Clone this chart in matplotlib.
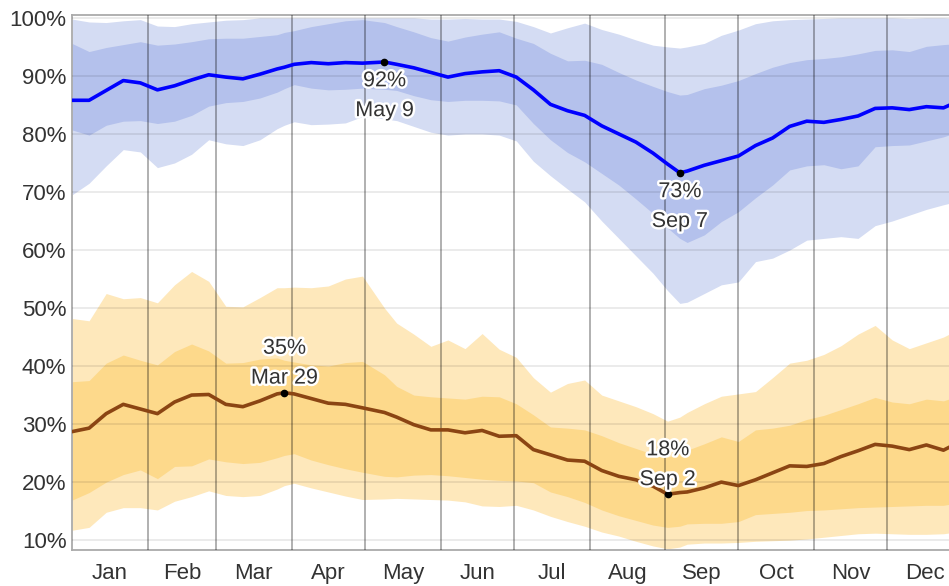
import datetime
import numpy as np
import matplotlib
matplotlib.use('Agg')
import matplotlib.pyplot as plt
import matplotlib.patheffects as pe

plt.rcParams['font.family'] = ['Liberation Sans', 'DejaVu Sans']

# day of year (0 = Jan 1)
days = [0, 7, 14, 21, 28, 35, 42, 49, 56, 63, 70, 77, 84, 87, 91, 98, 105, 112, 119, 128,
        133, 140, 147, 154, 161, 168, 175, 182, 189, 196, 203, 210, 217, 224, 231, 238,
        244, 249, 252, 259, 266, 273, 280, 287, 294, 301, 308, 315, 322, 329, 336, 343,
        350, 357, 364]

# blue: daily high humidity (median, 25-75, 10-90 percentiles)
blue_med = [85.8, 85.8, 87.5, 89.2, 88.8, 87.6, 88.3, 89.3, 90.2, 89.8, 89.5, 90.3, 91.2, 91.5,
            92.0, 92.3, 92.1, 92.3, 92.2, 92.4, 92.0, 91.4, 90.6, 89.8, 90.4, 90.7, 90.9, 89.8,
            87.6, 85.1, 84.0, 83.2, 81.4, 80.0, 78.6, 76.7, 74.8, 73.3, 73.6, 74.6, 75.4, 76.2,
            78.0, 79.3, 81.3, 82.2, 82.0, 82.5, 83.1, 84.4, 84.5, 84.2, 84.7, 84.5, 85.8]
blue_p75 = [95.6, 94.2, 94.9, 95.4, 95.9, 95.3, 95.5, 95.9, 96.4, 96.5, 96.5, 96.8, 97.1, 97.5,
            97.8, 98.5, 99.0, 99.5, 99.7, 99.2, 98.5, 97.6, 96.6, 96.0, 96.7, 97.2, 97.6, 96.5,
            95.6, 93.9, 92.6, 92.7, 92.0, 90.6, 89.3, 88.2, 87.3, 86.7, 86.8, 87.8, 88.4, 89.2,
            90.4, 91.5, 92.3, 92.8, 93.0, 93.3, 93.8, 94.4, 94.5, 94.2, 95.1, 95.4, 95.6]
blue_p25 = [80.7, 79.8, 81.5, 82.2, 82.3, 81.8, 82.2, 83.2, 84.8, 85.4, 85.6, 86.2, 87.2, 87.8,
            88.5, 87.9, 87.6, 87.7, 87.9, 87.7, 87.5, 86.6, 85.9, 85.6, 85.8, 85.8, 85.7, 85.0,
            81.8, 79.0, 76.8, 75.2, 73.2, 71.2, 68.8, 66.3, 63.8, 62.0, 61.3, 62.6, 64.9, 66.6,
            69.0, 71.2, 73.8, 74.5, 74.7, 74.0, 74.5, 77.8, 78.0, 78.1, 78.8, 79.5, 80.5]
blue_p90 = [99.8, 99.3, 99.2, 99.5, 99.7, 98.6, 98.5, 99.0, 99.3, 99.6, 99.7, 100, 100, 100,
            100, 100, 100, 100, 100, 100, 100, 100, 99.8, 99.8, 99.9, 99.8, 99.8, 99.4,
            98.5, 97.4, 98.3, 99.1, 98.0, 97.2, 96.2, 95.3, 95.0, 94.8, 95.0, 95.6, 97.0, 97.9,
            99.0, 99.5, 99.7, 99.8, 99.9, 100, 100, 100, 100, 99.9, 100, 100, 99.8]
blue_p10 = [69.5, 71.5, 74.5, 77.3, 76.9, 74.2, 75.0, 76.5, 79.0, 78.3, 78.0, 79.0, 80.9, 81.5,
            82.1, 81.6, 81.7, 81.9, 83.0, 82.6, 82.3, 81.3, 80.3, 79.8, 80.0, 80.0, 79.8, 78.8,
            75.3, 72.8, 70.5, 68.3, 65.0, 62.0, 59.0, 56.0, 53.0, 50.8, 51.0, 52.5, 54.0, 54.5,
            58.0, 58.6, 60.0, 61.7, 62.0, 62.3, 62.0, 64.2, 65.0, 66.0, 67.0, 67.8, 68.5]

# orange: daily low humidity
orange_med = [28.7, 29.3, 31.8, 33.4, 32.6, 31.8, 33.8, 35.0, 35.1, 33.4, 33.0, 34.0, 35.2, 35.4,
              35.2, 34.4, 33.6, 33.4, 32.8, 32.0, 31.2, 29.9, 29.0, 29.0, 28.5, 28.9, 27.9, 28.0,
              25.6, 24.7, 23.8, 23.6, 22.0, 21.0, 20.4, 19.3, 17.9, 18.2, 18.3, 19.0, 20.0, 19.4,
              20.4, 21.6, 22.8, 22.7, 23.2, 24.4, 25.4, 26.5, 26.2, 25.6, 26.4, 25.5, 27.0]
orange_p75 = [37.3, 37.5, 40.5, 41.9, 41.0, 40.2, 42.5, 43.8, 42.6, 40.5, 40.6, 41.2, 41.4, 41.0,
              40.7, 40.2, 40.0, 40.6, 40.8, 38.5, 36.5, 35.0, 34.7, 34.5, 34.3, 34.8, 34.7, 33.5,
              31.6, 29.5, 29.3, 29.0, 28.0, 26.8, 25.8, 24.8, 24.3, 25.0, 25.5, 26.6, 27.8, 27.0,
              29.0, 29.3, 29.8, 30.8, 31.5, 32.5, 33.5, 34.6, 33.8, 33.5, 34.3, 34.0, 35.0]
orange_p25 = [16.9, 18.2, 20.0, 21.3, 22.1, 20.6, 22.7, 22.8, 24.0, 23.5, 23.2, 23.4, 24.2, 24.6,
              24.9, 23.8, 23.0, 22.3, 21.7, 21.0, 20.9, 21.2, 21.3, 21.1, 20.8, 20.5, 20.3, 20.2,
              19.9, 18.3, 17.5, 16.5, 15.2, 14.2, 13.4, 12.6, 12.2, 12.4, 12.8, 12.9, 12.9, 13.2,
              14.4, 14.6, 14.8, 15.1, 15.2, 15.4, 15.6, 15.7, 15.8, 15.9, 16.0, 16.0, 16.5]
orange_p90 = [48.2, 47.8, 52.5, 51.6, 51.8, 50.9, 54.0, 56.3, 54.6, 50.3, 50.2, 51.8, 53.5, 53.5,
              53.6, 53.5, 53.8, 55.0, 55.5, 50.0, 47.4, 45.5, 43.4, 44.5, 43.0, 45.6, 42.9, 41.5,
              38.0, 35.5, 37.0, 37.6, 35.0, 34.0, 33.0, 31.8, 30.5, 31.2, 32.0, 33.5, 34.8, 35.2,
              35.6, 38.0, 40.5, 41.0, 42.0, 43.5, 45.5, 47.0, 44.5, 43.0, 44.0, 45.0, 46.5]
orange_p10 = [11.7, 12.2, 14.8, 15.6, 15.6, 15.2, 16.7, 17.5, 18.5, 17.7, 17.5, 17.7, 18.8, 19.4,
              19.8, 19.0, 18.3, 17.6, 17.0, 17.1, 17.2, 17.1, 17.0, 16.9, 16.6, 15.9, 15.8, 16.0,
              15.2, 14.1, 13.2, 12.4, 11.4, 10.7, 9.8, 9.0, 8.5, 8.8, 9.3, 9.5, 9.5, 9.6,
              9.8, 9.9, 10.0, 10.2, 10.5, 10.8, 11.1, 11.2, 11.1, 11.0, 11.0, 11.1, 11.5]

months = ['Jan', 'Feb', 'Mar', 'Apr', 'May', 'Jun', 'Jul', 'Aug', 'Sep', 'Oct', 'Nov', 'Dec']
month_len = [31, 28, 31, 30, 31, 30, 31, 31, 30, 31, 30, 31]
yticks = [10, 20, 30, 40, 50, 60, 70, 80, 90, 100]

text_color = '#333333'

fig = plt.figure(figsize=(9.49, 5.86), dpi=100)
# plot area runs a bit past the right edge of the image, like the original
ax = fig.add_axes([72 / 949, 1 - 550 / 586, 891 / 949, 535 / 586])

ax.fill_between(days, blue_p10, blue_p90, color='#d4dcf3', lw=0, zorder=1)
ax.fill_between(days, blue_p25, blue_p75, color='#b4c1ec', lw=0, zorder=1)
ax.fill_between(days, orange_p10, orange_p90, color='#fee8bb', lw=0, zorder=1)
ax.fill_between(days, orange_p25, orange_p75, color='#fdd98b', lw=0, zorder=1)

ax.plot(days, blue_med, color='#0000ff', lw=2.6, zorder=4)
ax.plot(days, orange_med, color='#8b4513', lw=2.6, zorder=4)

for y in yticks:
    ax.axhline(y, color=(0, 0, 0, 0.1), lw=1.1, zorder=3)
starts = np.cumsum([0] + month_len)
for x in starts[1:-1]:
    ax.axvline(x, color=(0, 0, 0, 0.36), lw=1.2, zorder=3)

# label highest / lowest point of each median line
halo = [pe.withStroke(linewidth=3.5, foreground='white')]
for series, pick, below in [(blue_med, np.argmax, True), (blue_med, np.argmin, True),
                            (orange_med, np.argmax, False), (orange_med, np.argmin, False)]:
    i = int(pick(series))
    d, v = days[i], series[i]
    date = datetime.date(2023, 1, 1) + datetime.timedelta(days=d)
    label = f"{v:.0f}%\n{date:%b} {date.day}"
    ax.plot(d, v, 'o', color='black', ms=4.5, zorder=6)
    ax.annotate(label, (d, v), xytext=(0, -6 if below else 3), textcoords='offset points',
                ha='center', va='top' if below else 'bottom', fontsize=15.5,
                color=text_color, linespacing=1.55, zorder=7, path_effects=halo)

ax.set_xlim(0, 365)
ax.set_ylim(8.3, 100.5)
ax.set_xticks(starts[:-1] + np.array(month_len) / 2)
ax.set_xticklabels(months)
ax.set_yticks(yticks)
ax.set_yticklabels([f"{y}%" for y in yticks])
ax.tick_params(length=0, labelsize=16, labelcolor=text_color)
ax.tick_params(axis='x', pad=21)
ax.tick_params(axis='y', pad=4)
# month names share one baseline
for lab in ax.get_xticklabels():
    lab.set_verticalalignment('baseline')

ax.spines['right'].set_visible(False)
for s in ['left', 'top', 'bottom']:
    ax.spines[s].set_color('#aaaaaa')
    ax.spines[s].set_linewidth(1.3)

fig.savefig('out.png', dpi=100)
